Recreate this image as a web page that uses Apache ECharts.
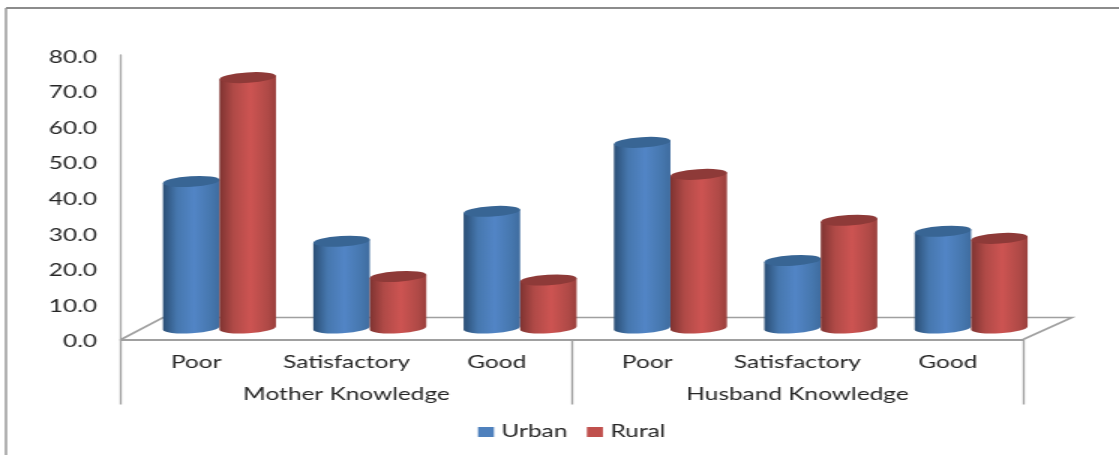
<!DOCTYPE html>
<html><head><meta charset="utf-8">
<style>html,body{margin:0;padding:0;background:#fff;overflow:hidden}#c{width:746px;height:455px;transform:scaleX(1.5);transform-origin:0 0}</style>
<script src="https://cdn.jsdelivr.net/npm/echarts@6/dist/echarts.min.js"></script>
</head><body><div id="c"></div>
<script>
const categories = ["Poor","Satisfactory","Good","Poor","Satisfactory","Good"];
const groups = ["Mother Knowledge","Husband Knowledge"];
const urban = [41.2,24.4,32.8,52.2,19.0,27.2];
const rural = [70.4,14.5,13.5,43.2,30.3,25.2];
const yTicks = {min:0,max:80,interval:10};

const S = 1.5; // the page is stretched horizontally by this factor, as the reference is
const DEPTH_X = 49/S, DEPTH_Y = 22, BAR_W = 56.5/S, SHIFT_X = 23.3/S, SHIFT_Y = 11.5, RY = 5.2, TILT = 1.8;
const FONT = "Lato";
const ROT = -Math.atan2(2*TILT, BAR_W)*180/Math.PI;

function cyl(colors, side){
  return function(params, api){
    const base = api.coord([api.value(0), 0]);
    const top = api.coord([api.value(0), api.value(1)]);
    const cx = base[0] + SHIFT_X;
    const x0 = side < 0 ? cx - BAR_W : cx, x1 = x0 + BAR_W;
    const yb = base[1] - SHIFT_Y, yt = top[1] - SHIFT_Y;
    const rx = BAR_W/2;
    const body = `M${x0} ${yt+TILT}L${x0} ${yb+TILT}A${rx} ${RY} ${ROT} 0 0 ${x1} ${yb-TILT}L${x1} ${yt-TILT}Z`;
    const cap = `M${x0} ${yt+TILT}A${rx} ${RY} ${ROT} 0 1 ${x1} ${yt-TILT}A${rx} ${RY} ${ROT} 0 1 ${x0} ${yt+TILT}Z`;
    return {type:'group',children:[
      {type:'path',shape:{pathData:body},style:{fill:new echarts.graphic.LinearGradient(0,0,1,0,[
        {offset:0,color:colors[0]},{offset:.25,color:colors[1]},{offset:.55,color:colors[2]},{offset:.85,color:colors[1]},{offset:1,color:colors[3]}])}},
      {type:'path',shape:{pathData:cap},style:{fill:colors[4]}}
    ]};
  };
}
function floor(params, api){
  const a = api.coord([0,0]), cs = params.coordSys;
  const xl = cs.x, xr = cs.x + cs.width, y = a[1];
  return {type:'polyline',shape:{points:[[xl,y],[xl+DEPTH_X-7/S,y-DEPTH_Y],[xr+DEPTH_X,y-DEPTH_Y],[xr,y]]},
    style:{stroke:'#a0a0a0',lineWidth:1.6,fill:'none'},silent:true};
}
const chart = echarts.init(document.getElementById('c'),null,{renderer:'canvas'});
chart.setOption({
  animation:false,
  textStyle:{fontFamily:FONT},
  graphic:[
    {type:'line',shape:{x1:6/S,y1:8,x2:800,y2:8},style:{stroke:'#8c8c8c',lineWidth:2},silent:true},
    {type:'line',shape:{x1:6/S,y1:8,x2:6/S,y2:455},style:{stroke:'#8c8c8c',lineWidth:2/S},silent:true}
  ],
  legend:{top:424,left:478/S,padding:0,itemWidth:16/S,itemHeight:10,itemGap:13,icon:'rect',
    data:['Urban','Rural'],textStyle:{fontFamily:FONT,fontSize:16.3,color:'#262626'}},
  grid:{left:121/S,top:55,width:902/S,height:284.5},
  xAxis:[
   {type:'category',data:categories,position:'bottom',
    axisLine:{show:true,lineStyle:{color:'#a0a0a0',width:2}},axisTick:{show:false},
    axisLabel:{fontSize:16.3,color:'#262626',margin:15,interval:0}},
   {type:'category',data:groups,position:'bottom',
    axisLine:{show:false},axisTick:{show:true,length:65,lineStyle:{color:'#a0a0a0',width:2/S}},
    axisLabel:{fontSize:16.3,color:'#262626',margin:47,interval:0}}
  ],
  yAxis:{type:'value',min:yTicks.min,max:yTicks.max,interval:yTicks.interval,
    axisLine:{show:true,lineStyle:{color:'#a8a8a8',width:2/S}},axisTick:{show:false},splitLine:{show:false},
    axisLabel:{fontSize:16.3,color:'#262626',margin:16,verticalAlign:'top',lineHeight:5,formatter:v=>v.toFixed(1)}},
  series:[
   {type:'custom',name:'floor',silent:true,renderItem:floor,data:[[0,0]],encode:{x:0,y:1},z:1},
   {type:'custom',name:'Urban',itemStyle:{color:'#4f81bd'},renderItem:cyl(['#2a4e75','#4677ae','#5285c6','#3f6c9f','#386594'],-1),
    data:urban.map((v,i)=>[i,v]),encode:{x:0,y:1},z:2},
   {type:'custom',name:'Rural',itemStyle:{color:'#c0504d'},renderItem:cyl(['#7e3331','#b04a47','#cd5452','#9a3f3c','#8e3a38'],1),
    data:rural.map((v,i)=>[i,v]),encode:{x:0,y:1},z:3}
  ]
});
</script></body></html>
